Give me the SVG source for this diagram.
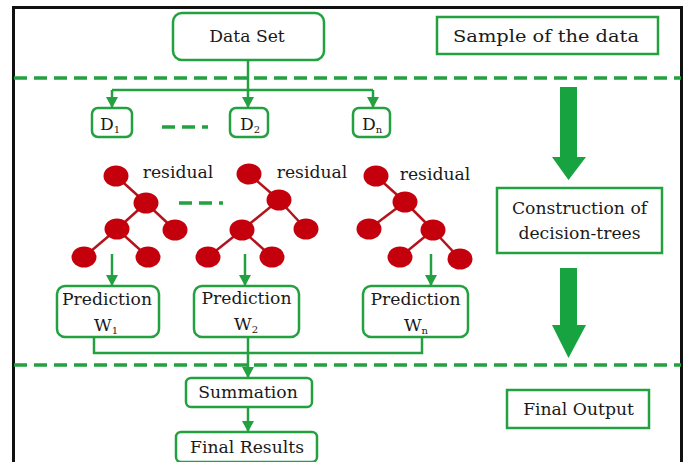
<svg xmlns="http://www.w3.org/2000/svg" width="686" height="462" viewBox="0 0 686 462">
<defs>
<style>
.box{fill:#fff;stroke:#23a040;stroke-width:2.5}
.t{font-family:"DejaVu Serif","Liberation Serif",serif;font-size:17.2px;fill:#1a1a1a;text-anchor:middle}
.conn{fill:none;stroke:#23a040;stroke-width:2.5}
.dash{fill:none;stroke:#23a040;stroke-width:3.5;stroke-dasharray:13 7}
.node{fill:#c4000c}
.edge{stroke:#b3141c;stroke-width:2.5}
.big{fill:#16a340}
</style>
<marker id="ah" markerUnits="userSpaceOnUse" markerWidth="12" markerHeight="12" refX="11" refY="6" orient="auto">
<path d="M0,0 L11,6 L0,12 z" fill="#23a040"/>
</marker>
</defs>
<rect width="686" height="462" fill="#fff"/>
<rect x="13.5" y="7.5" width="668" height="470" fill="none" stroke="#111" stroke-width="3"/>

<g id="separators">
<line class="dash" x1="14" y1="78" x2="681" y2="78"/>
<line class="dash" x1="14" y1="365" x2="681" y2="365"/>
<line class="dash" x1="179" y1="203" x2="223" y2="203"/>
<line class="dash" x1="162" y1="127" x2="208" y2="127"/>
</g>

<g id="connectors">
<path class="conn" d="M248 60 V108" marker-end="url(#ah)"/>
<path class="conn" d="M112 90 H373"/>
<path class="conn" d="M112 90 V108" marker-end="url(#ah)"/>
<path class="conn" d="M373 90 V108" marker-end="url(#ah)"/>
<path class="conn" d="M112 254 V286" marker-end="url(#ah)"/>
<path class="conn" d="M245 254 V286" marker-end="url(#ah)"/>
<path class="conn" d="M431 254 V286" marker-end="url(#ah)"/>
<path class="conn" d="M94 337 V353 H422 V337"/>
<path class="conn" d="M248 337 V378" marker-end="url(#ah)"/>
<path class="conn" d="M248 407 V432" marker-end="url(#ah)"/>
<polygon class="big" points="560,87 577,87 577,157 586,157 568.5,180 552,157 560,157"/>
<polygon class="big" points="560,268 577,268 577,325 586,325 568.5,358 552,325 560,325"/>
</g>

<g id="dataset">
<rect class="box" x="173" y="13" width="151" height="47" rx="9"/>
<text class="t" x="247" y="42">Data Set</text>
</g>
<g id="sample">
<rect class="box" x="437" y="17" width="221" height="37"/>
<text class="t" x="546" y="42" textLength="186" lengthAdjust="spacingAndGlyphs">Sample of the data</text>
</g>
<g id="d1">
<rect class="box" x="92" y="108" width="40" height="29" rx="6"/>
<text class="t" x="110" y="130">D<tspan font-size="10" dy="3">1</tspan></text>
</g>
<g id="d2">
<rect class="box" x="230" y="108" width="38" height="29" rx="6"/>
<text class="t" x="250" y="130">D<tspan font-size="10" dy="3">2</tspan></text>
</g>
<g id="dn">
<rect class="box" x="353" y="108" width="37" height="29" rx="6"/>
<text class="t" x="372" y="130">D<tspan font-size="10" dy="3">n</tspan></text>
</g>

<g id="tree1">
<line class="edge" x1="116" y1="176" x2="146" y2="203"/>
<line class="edge" x1="146" y1="203" x2="117" y2="229"/>
<line class="edge" x1="146" y1="203" x2="175" y2="230"/>
<line class="edge" x1="117" y1="229" x2="84" y2="257"/>
<line class="edge" x1="117" y1="229" x2="148" y2="257"/>
<ellipse class="node" cx="116" cy="176" rx="12.5" ry="10.5"/>
<ellipse class="node" cx="146" cy="203" rx="12.5" ry="10.5"/>
<ellipse class="node" cx="117" cy="229" rx="12.5" ry="10.5"/>
<ellipse class="node" cx="175" cy="230" rx="12.5" ry="10.5"/>
<ellipse class="node" cx="84" cy="257" rx="12.5" ry="10.5"/>
<ellipse class="node" cx="148" cy="257" rx="12.5" ry="10.5"/>
<text class="t" x="178" y="178">residual</text>
</g>
<g id="tree2">
<line class="edge" x1="249" y1="174" x2="279" y2="200"/>
<line class="edge" x1="279" y1="200" x2="242" y2="230"/>
<line class="edge" x1="279" y1="200" x2="306" y2="229"/>
<line class="edge" x1="242" y1="230" x2="208" y2="257"/>
<line class="edge" x1="242" y1="230" x2="272" y2="257"/>
<ellipse class="node" cx="249" cy="174" rx="12.5" ry="10.5"/>
<ellipse class="node" cx="279" cy="200" rx="12.5" ry="10.5"/>
<ellipse class="node" cx="242" cy="230" rx="12.5" ry="10.5"/>
<ellipse class="node" cx="306" cy="229" rx="12.5" ry="10.5"/>
<ellipse class="node" cx="208" cy="257" rx="12.5" ry="10.5"/>
<ellipse class="node" cx="272" cy="257" rx="12.5" ry="10.5"/>
<text class="t" x="312" y="178">residual</text>
</g>
<g id="tree3">
<line class="edge" x1="376" y1="176" x2="405" y2="202"/>
<line class="edge" x1="405" y1="202" x2="369" y2="229"/>
<line class="edge" x1="405" y1="202" x2="433" y2="230"/>
<line class="edge" x1="433" y1="230" x2="400" y2="257"/>
<line class="edge" x1="433" y1="230" x2="460" y2="259"/>
<ellipse class="node" cx="376" cy="176" rx="12.5" ry="10.5"/>
<ellipse class="node" cx="405" cy="202" rx="12.5" ry="10.5"/>
<ellipse class="node" cx="369" cy="229" rx="12.5" ry="10.5"/>
<ellipse class="node" cx="433" cy="230" rx="12.5" ry="10.5"/>
<ellipse class="node" cx="400" cy="257" rx="12.5" ry="10.5"/>
<ellipse class="node" cx="460" cy="259" rx="12.5" ry="10.5"/>
<text class="t" x="435" y="180">residual</text>
</g>

<g id="pred1">
<rect class="box" x="57" y="286" width="102" height="51" rx="8"/>
<text class="t" x="107" y="305">Prediction</text>
<text class="t" x="106" y="331">W<tspan font-size="10" dy="3">1</tspan></text>
</g>
<g id="pred2">
<rect class="box" x="194" y="286" width="105" height="51" rx="8"/>
<text class="t" x="246.5" y="304">Prediction</text>
<text class="t" x="246" y="330">W<tspan font-size="10" dy="3">2</tspan></text>
</g>
<g id="predn">
<rect class="box" x="363" y="286" width="105" height="51" rx="8"/>
<text class="t" x="415.5" y="305">Prediction</text>
<text class="t" x="416" y="331">W<tspan font-size="10" dy="3">n</tspan></text>
</g>

<g id="construction">
<rect class="box" x="497" y="188" width="165" height="65"/>
<text class="t" x="579.5" y="214">Construction of</text>
<text class="t" x="579.5" y="239">decision-trees</text>
</g>
<g id="summation">
<rect class="box" x="186" y="378" width="126" height="29" rx="5"/>
<text class="t" x="248" y="398">Summation</text>
</g>
<g id="final_results">
<rect class="box" x="176" y="432" width="141" height="30" rx="5"/>
<text class="t" x="247" y="453">Final Results</text>
</g>
<g id="final_output">
<rect class="box" x="507" y="390" width="142" height="38"/>
<text class="t" x="578.5" y="415">Final Output</text>
</g>
</svg>
